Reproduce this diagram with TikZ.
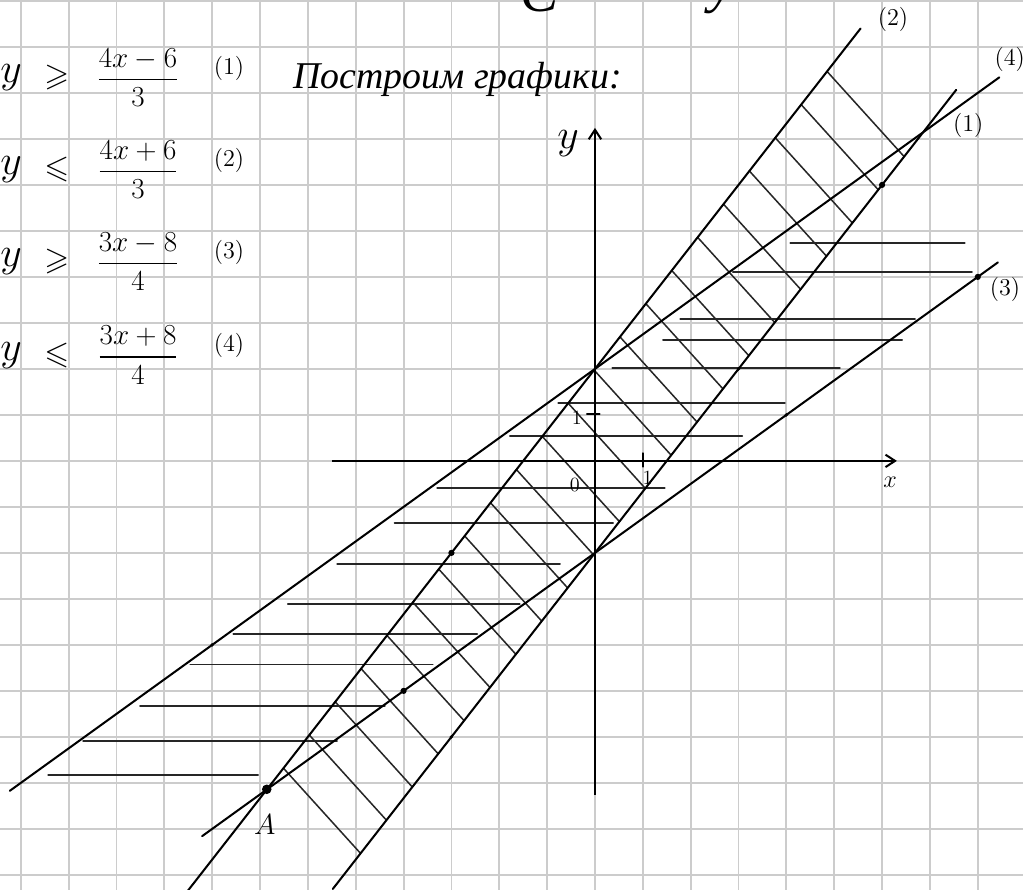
\documentclass[tikz,border=0pt]{standalone}
\usepackage{amsmath,amssymb}
\usepackage{fontspec}
\usepackage{tikz}
\usetikzlibrary{arrows.meta}
\newfontfamily\rufont{Liberation Serif}

\begin{document}
\begin{tikzpicture}[
  x=1cm, y=0.9613cm,
  paper/.style={draw=black!20, line width=1.1pt},
  bound/.style={draw=black, line width=1.2pt, line cap=round},
  hatchline/.style={draw=black!85, line width=0.9pt, line cap=round},
  axisline/.style={draw=black, line width=1.2pt, -{Straight Barb[length=2mm,width=2.6mm]}},
  dotpt/.style={circle, fill=black, inner sep=0pt, minimum size=1.3mm},
  hand/.style={font=\fontsize{19}{22}\selectfont, inner sep=1pt},
  tag/.style={font=\fontsize{15}{18}\selectfont, inner sep=1pt},
  small/.style={font=\fontsize{12}{14}\selectfont, inner sep=1pt}
]
  \useasboundingbox (-12.435,-9.326) rectangle (8.945,10.02);
  \fill[white] (-12.435,-9.326) rectangle (8.945,10.02);

  % squared paper
  \foreach \i in {-12,...,8}
    \draw[paper] (\i,-9.326) -- (\i,10.02);
  \foreach \j in {-9,...,10}
    \draw[paper] (-12.435,\j) -- (8.945,\j);

  % horizontal hatching between (3) and (4)
  \foreach \yy/\xa/\xb in {4.74/4.08/7.73, 4.11/2.88/7.88, 3.09/1.78/6.69,
      2.63/1.42/6.42, 2.02/0.36/5.12, 1.26/-0.77/3.97, 0.54/-1.78/3.08,
      -0.59/-3.30/1.46, -1.35/-4.19/0.38, -2.24/-5.39/-0.73,
      -3.11/-6.42/-1.57, -3.76/-7.56/-2.46, -4.43/-8.46/-3.39,
      -5.33/-9.51/-4.39, -6.09/-10.70/-5.39, -6.83/-11.43/-7.04}
    \draw[hatchline] (\xa,\yy) -- (\xb,\yy);

  % slanted hatching between (1) and (2)
  \foreach \k in {0,...,21}{
    \pgfmathsetmacro{\xs}{4.85-0.541*\k}
    \draw[hatchline] (\xs,{(4*\xs+6)/3}) -- ++(1.61,-1.85);
  }

  % axes
  \coordinate (xa) at (-5.5,0);
  \coordinate (xb) at (6.31,0);
  \coordinate (ya) at (0,-7.26);
  \coordinate (yb) at (0,7.24);
  \draw[axisline] (xa) -- (xb);
  \draw[axisline] (ya) -- (yb);
  \draw[bound, line width=0.9pt] (1,0.17) -- (1,-0.13);
  \draw[bound, line width=0.9pt] (-0.17,1.02) -- (0.1,1.02);

  % graphs
  \coordinate (l1a) at (-5.48,-9.307);
  \coordinate (l1b) at (7.55,8.067);
  \coordinate (l2a) at (-8.55,-9.40);
  \coordinate (l2b) at (5.55,9.40);
  \coordinate (l3a) at (-8.21,-8.158);
  \coordinate (l3b) at (8.42,4.315);
  \coordinate (l4a) at (-12.23,-7.173);
  \coordinate (l4b) at (8.45,8.338);
  \draw[bound] (l1a) -- (l1b);
  \draw[bound] (l2a) -- (l2b);
  \draw[bound] (l3a) -- (l3b);
  \draw[bound] (l4a) -- (l4b);

  % points
  \node[dotpt] (p1) at (6,6) {};
  \node[dotpt] (p2) at (8,4) {};
  \node[dotpt] (p3) at (-3,-2) {};
  \node[dotpt] (p4) at (-4,-5) {};
  \node[dotpt, minimum size=0.8mm] (p5) at (3,2) {};
  \node[dotpt, minimum size=0.8mm] (p6) at (4,1) {};
  \node[dotpt, minimum size=0.8mm] (p7) at (-3,-6) {};
  \node[dotpt, minimum size=0.8mm] (p8) at (-8,-4) {};
  \node[dotpt, minimum size=2mm] (pA) at (-6.86,-7.14) {};

  % labels
  \node[hand] (labA) at (-6.9,-7.91) {$A$};
  \node[hand, font=\fontsize{24}{28}\selectfont] (laby) at (-0.56,6.89) {$y$};
  \node[tag] (labx) at (6.17,-0.46) {$x$};
  \node[small] (lab0) at (-0.42,-0.52) {$0$};
  \node[small] (labx1) at (1.1,-0.37) {$1$};
  \node[small] (laby1) at (-0.38,0.93) {$1$};
  \node[tag] (n2) at (6.23,9.59) {$(2)$};
  \node[tag] (n4) at (8.67,8.72) {$(4)$};
  \node[tag] (n1) at (7.8,7.3) {$(1)$};
  \node[tag] (n3) at (8.57,3.72) {$(3)$};

  % system of inequalities
  \foreach \yy/\rel/\num/\den/\k in {8.33/\geqslant/4x-6/3/1,
      6.33/\leqslant/4x+6/3/2, 4.33/\geqslant/3x-8/4/3,
      2.30/\leqslant/3x+8/4/4}{
    \node[hand, font=\fontsize{28}{32}\selectfont] (y\k) at (-12.2,\yy) {$y$};
    \node[hand] (rel\k) at (-11.25,\yy) {$\rel$};
    \node[hand] (frac\k) at (-9.55,\yy) {$\dfrac{\num}{\den}$};
    \node[tag] (lab\k) at (-7.65,{\yy+0.2}) {$(\k)$};
  }

  \node[hand, font=\fontsize{22.5}{26}\selectfont\rufont\itshape] (title) at (-2.87,8.3) {Построим графики:};
  \node[hand, font=\fontsize{34}{40}\selectfont\rufont\itshape, anchor=south, inner sep=0pt] (topC) at (-1.15,9.76) {С};
  \node[hand, font=\fontsize{34}{40}\selectfont\rufont\itshape, anchor=south, inner sep=0pt] (topy) at (2.65,9.72) {у};
\end{tikzpicture}
\end{document}
